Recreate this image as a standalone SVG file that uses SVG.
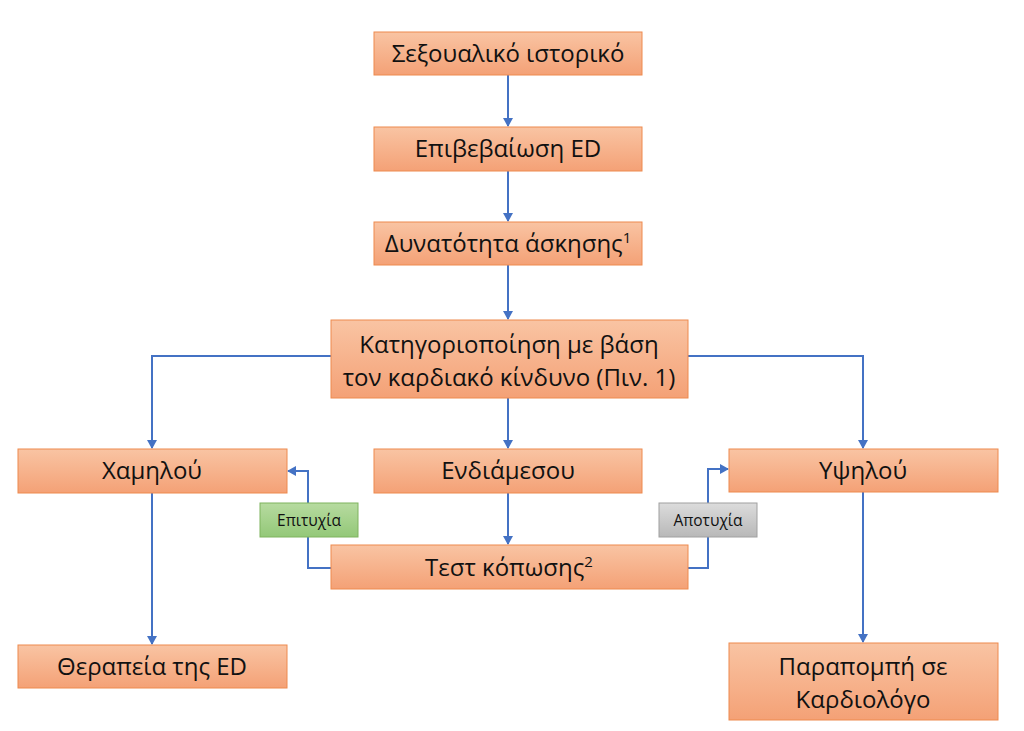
<svg xmlns="http://www.w3.org/2000/svg" width="1024" height="731" viewBox="0 0 1024 731">
<defs>
<linearGradient id="og" x1="0" y1="0" x2="0" y2="1">
<stop offset="0" stop-color="#f9c4a3"/>
<stop offset="1" stop-color="#f4a176"/>
</linearGradient>
<linearGradient id="gg" x1="0" y1="0" x2="0" y2="1">
<stop offset="0" stop-color="#b7dba0"/>
<stop offset="1" stop-color="#93c878"/>
</linearGradient>
<linearGradient id="sg" x1="0" y1="0" x2="0" y2="1">
<stop offset="0" stop-color="#dcdcdc"/>
<stop offset="1" stop-color="#b8b8b8"/>
</linearGradient>
<marker id="ah" markerWidth="10" markerHeight="10" refX="8" refY="5" orient="auto" markerUnits="userSpaceOnUse">
<path d="M0,0 L9,5 L0,10 Z" fill="#4472c4"/>
</marker>
<style>
.box{fill:url(#og);stroke:#ee8a4e;stroke-width:1}
.t{font-family:"Open Sans","Noto Sans",sans-serif;font-size:24px;fill:#111;text-anchor:middle}
.s{font-family:"Open Sans","Noto Sans",sans-serif;font-size:15.5px;fill:#111;text-anchor:middle}
.c{fill:none;stroke:#4472c4;stroke-width:2;marker-end:url(#ah)}
</style>
</defs>
<rect width="1024" height="731" fill="#fff"/>
<g id="connectors">
<path class="c" d="M508,75 V126"/>
<path class="c" d="M508,171 V221"/>
<path class="c" d="M508,265 V319"/>
<path class="c" d="M331,356 H152 V448"/>
<path class="c" d="M688,356 H863 V448"/>
<path class="c" d="M508,398 V448"/>
<path class="c" d="M508,493 V544"/>
<path class="c" d="M152,493 V644"/>
<path class="c" d="M863,492 V642"/>
<path class="c" d="M331,568 H308 V471 H288"/>
<path class="c" d="M688,568 H708 V469 H728"/>
</g>
<g id="n1"><rect class="box" x="374" y="32" width="268" height="43"/><text class="t" x="508" y="62">Σεξουαλικό ιστορικό</text></g>
<g id="n2"><rect class="box" x="374" y="127" width="268" height="44"/><text class="t" x="508" y="157">Επιβεβαίωση ED</text></g>
<g id="n3"><rect class="box" x="374" y="222" width="268" height="43"/><text class="t" x="508" y="252">Δυνατότητα άσκησης<tspan font-size="15" dy="-9">1</tspan></text></g>
<g id="n4"><rect class="box" x="331" y="320" width="357" height="78"/><text class="t" x="509" y="353">Κατηγοριοποίηση με βάση</text><text class="t" x="509" y="386">τον καρδιακό κίνδυνο (Πιν. 1)</text></g>
<g id="n5"><rect class="box" x="18" y="449" width="269" height="44"/><text class="t" x="152" y="479">Χαμηλού</text></g>
<g id="n6"><rect class="box" x="374" y="449" width="268" height="44"/><text class="t" x="508" y="479">Ενδιάμεσου</text></g>
<g id="n7"><rect class="box" x="729" y="449" width="269" height="43"/><text class="t" x="863" y="479">Υψηλού</text></g>
<g id="n8"><rect class="box" x="331" y="545" width="357" height="44"/><text class="t" x="509" y="576">Τεστ κόπωσης<tspan font-size="15" dy="-9">2</tspan></text></g>
<g id="n9"><rect class="box" x="18" y="645" width="269" height="43"/><text class="t" x="152" y="675">Θεραπεία της ED</text></g>
<g id="n10"><rect class="box" x="729" y="643" width="269" height="77"/><text class="t" x="863" y="675">Παραπομπή σε</text><text class="t" x="863" y="708">Καρδιολόγο</text></g>
<g id="l1"><rect x="260" y="503" width="98" height="34" fill="url(#gg)" stroke="#7fb35e" stroke-width="1"/><text class="s" x="309" y="526">Επιτυχία</text></g>
<g id="l2"><rect x="659" y="503" width="98" height="34" fill="url(#sg)" stroke="#a0a0a0" stroke-width="1"/><text class="s" x="708" y="526">Αποτυχία</text></g>
</svg>
